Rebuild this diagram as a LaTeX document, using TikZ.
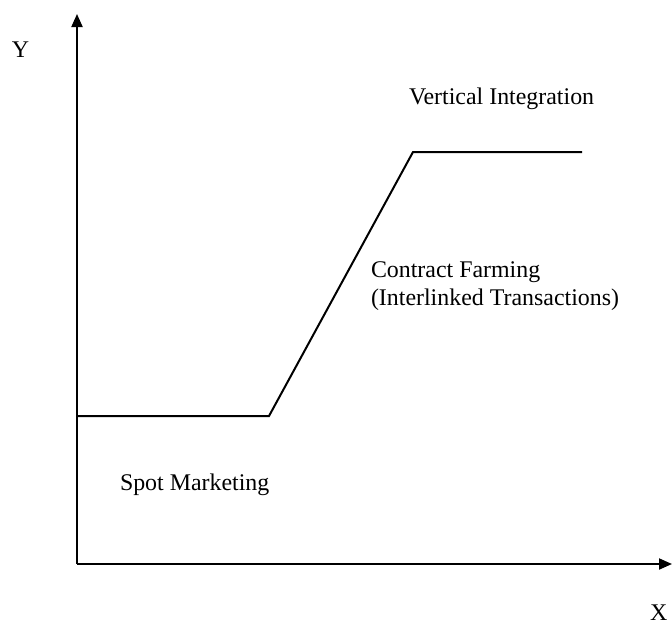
\documentclass[tikz,border=0pt]{standalone}
\usepackage{fontspec}
\setmainfont{Liberation Serif}
\usetikzlibrary{arrows.meta}

\begin{document}
\begin{tikzpicture}[x=1pt, y=-1pt, line width=2pt,
  axis/.style={-{Triangle[length=13pt, width=11pt]}},
  lbl/.style={anchor=base west, inner sep=0pt, align=left,
    font=\fontsize{23.9}{27.5}\selectfont}]

  \useasboundingbox (0,0) rectangle (672,624);

  % axes
  \coordinate (o) at (77,564);
  \coordinate (ytop) at (77,14);
  \coordinate (xend) at (672,564);

  % stepped curve
  \coordinate (s0) at (77,416);
  \coordinate (s1) at (269,416);
  \coordinate (s2) at (413,152);
  \coordinate (s3) at (582,152);

  \draw[axis] (o) -- (ytop);
  \draw[axis] (o) -- (xend);
  \draw[line join=miter] (s0) -- (s1) -- (s2) -- (s3);

  \node[lbl] (ylab) at (11,57) {Y};
  \node[lbl] (xlab) at (649,620) {X};
  \node[lbl] (vi) at (408,104) {Vertical Integration};
  \node[lbl] (cf) at (370,305) {Contract Farming\\(Interlinked Transactions)};
  \node[lbl] (sm) at (119,490) {Spot Marketing};

\end{tikzpicture}
\end{document}
